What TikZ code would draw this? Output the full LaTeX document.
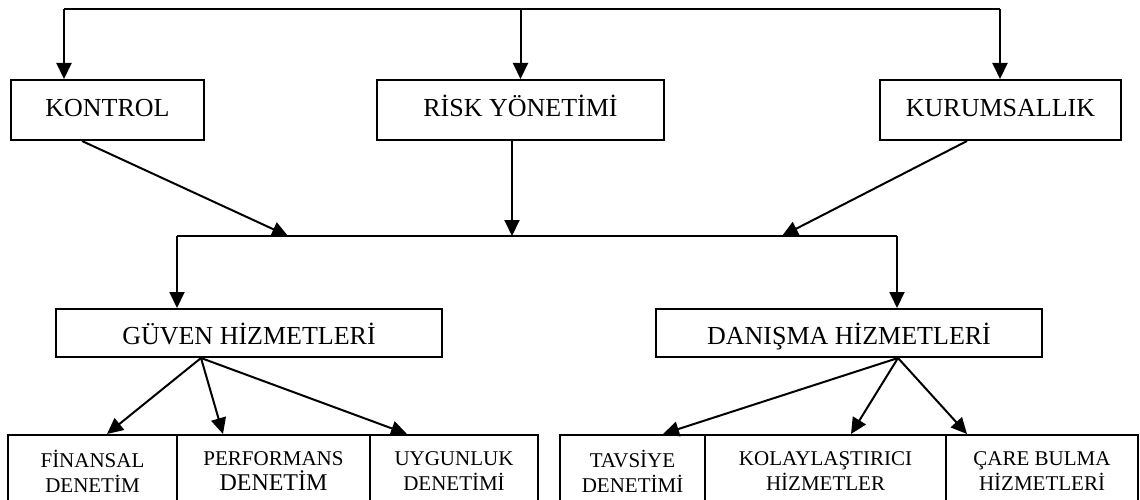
\documentclass[tikz,border=0pt]{standalone}
\usepackage{fontspec}
\setmainfont{Liberation Serif}
\usetikzlibrary{arrows.meta}
\begin{document}
\begin{tikzpicture}[x=1pt,y=-1pt,
  box/.style={draw,line width=2pt,inner sep=0pt,align=center,minimum height=60pt,
    text height=19pt,text depth=5pt,font=\fontsize{26}{31}\selectfont},
  midbox/.style={box,minimum height=48pt,text height=24pt,text depth=2pt},
  sbox/.style={draw,line width=2pt,inner sep=0pt,align=center,minimum height=72pt,
    font=\fontsize{21}{25}\selectfont},
  conn/.style={line width=2pt},
  arr/.style={line width=2pt,-{Triangle[length=16pt,width=15pt]}}]
\useasboundingbox (0,0) rectangle (1140,500);
\clip (0,0) rectangle (1140,500);
% top row
\node[box,minimum width=193pt] (kon) at (107.5,110) {KONTROL};
\node[box,minimum width=287pt] (risk) at (520.5,110) {RİSK YÖNETİMİ};
\node[box,minimum width=241pt] (kur) at (1000.5,110) {KURUMSALLIK};
% middle row
\node[midbox,minimum width=386pt] (guv) at (249,333) {GÜVEN HİZMETLERİ};
\node[midbox,minimum width=386pt] (dan) at (849,333) {DANIŞMA HİZMETLERİ};
% bottom row
\node[sbox,minimum width=169pt] (fin) at (92.5,471) {FİNANSAL\\DENETİM};
\node[sbox,minimum width=193pt] (perf) at (273.5,471) {PERFORMANS\\{\fontsize{24}{25}\selectfont DENETİM}};
\node[sbox,minimum width=168pt] (uyg) at (454,471) {UYGUNLUK\\DENETİMİ};
\node[sbox,minimum width=145pt] (tav) at (632.5,471) {TAVSİYE\\DENETİMİ};
\node[sbox,minimum width=241pt] (kol) at (825.5,471) {KOLAYLAŞTIRICI\\HİZMETLER};
\node[sbox,minimum width=192pt] (care) at (1042,471) {ÇARE BULMA\\HİZMETLERİ};
% top distribution line
\coordinate (t1) at (64,9);
\coordinate (t3) at (1000,9);
\draw[conn] (t1) -- (t3);
\draw[arr] (t1) -- (t1 |- kon.north);
\draw[arr] (risk.north |- t1) -- (risk.north);
\draw[arr] (t3) -- (t3 |- kur.north);
% middle collection line
\coordinate (m1) at (177,236);
\coordinate (m2) at (897,236);
\coordinate (kt) at (288,236);
\coordinate (rt) at (782,236);
\draw[conn] (m1) -- (m2);
\draw[arr] ([xshift=-25.5pt]kon.south) -- (kt);
\draw[arr] ([xshift=-8.5pt]risk.south) -- ([xshift=-8.5pt]risk.south |- m1);
\draw[arr] ([xshift=-33.5pt]kur.south) -- (rt);
\draw[arr] (m1) -- (m1 |- guv.north);
\draw[arr] (m2) -- (m2 |- dan.north);
% fans
\coordinate (g0) at ([xshift=-48pt]guv.south);
\draw[arr] (g0) -- ([xshift=14.5pt]fin.north);
\draw[arr] (g0) -- ([xshift=-50.5pt]perf.north);
\draw[arr] (g0) -- ([xshift=-47pt]uyg.north);
\coordinate (d0) at ([xshift=49pt]dan.south);
\draw[arr] (d0) -- ([xshift=30.5pt]tav.north);
\draw[arr] (d0) -- ([xshift=25.5pt]kol.north);
\draw[arr] (d0) -- ([xshift=-75pt]care.north);
\end{tikzpicture}
\end{document}
